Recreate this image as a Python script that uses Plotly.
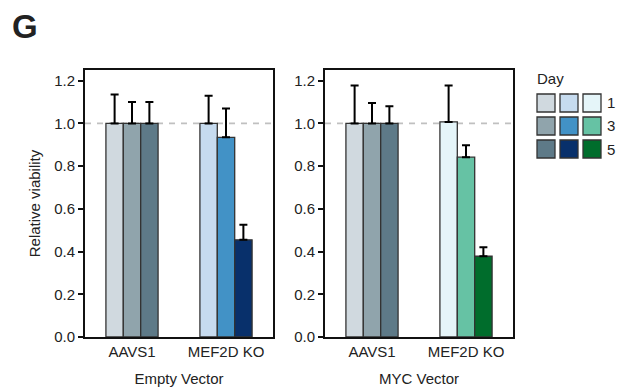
import plotly.graph_objects as go
from plotly.subplots import make_subplots

categories = ["AAVS1", "MEF2D KO"]
days = ["1", "3", "5"]
panels = ["Empty Vector", "MYC Vector"]

# values per panel, per day -> [AAVS1, MEF2D KO]
empty_values = {"1": [1.0, 1.0], "3": [1.0, 0.935], "5": [1.0, 0.455]}
empty_err = {"1": [0.135, 0.13], "3": [0.10, 0.135], "5": [0.10, 0.07]}
myc_values = {"1": [1.0, 1.007], "3": [1.0, 0.842], "5": [1.0, 0.378]}
myc_err = {"1": [0.177, 0.17], "3": [0.096, 0.056], "5": [0.08, 0.042]}

aavs_colors = ["#d0d9df", "#90a4ac", "#5e7a88"]
empty_mef_colors = ["#c6dbef", "#4292c6", "#08306b"]
myc_mef_colors = ["#e5f5f9", "#66c2a4", "#006d2c"]

FONT = "Liberation Sans, Arial, sans-serif"
FS = 15

W, H = 620, 390


def px(x):
    return x / W


def py(y):
    return 1 - y / H


fig = make_subplots(rows=1, cols=2)

for col, (vals, errs, mefc) in enumerate(
        [(empty_values, empty_err, empty_mef_colors),
         (myc_values, myc_err, myc_mef_colors)], start=1):
    for i, d in enumerate(days):
        fig.add_trace(go.Bar(
            x=categories, y=vals[d],
            marker=dict(color=[aavs_colors[i], mefc[i]],
                        line=dict(color="#333333", width=1.3)),
            error_y=dict(type="data", array=errs[d], symmetric=False,
                         arrayminus=[0, 0], color="black", thickness=2, width=4),
            showlegend=False, name="Day " + d,
        ), row=1, col=col)

ydom = [py(337), py(70)]
fig.update_layout(
    template="none",
    width=W, height=H,
    margin=dict(l=0, r=0, t=0, b=0),
    paper_bgcolor="white", plot_bgcolor="white",
    barmode="group", bargap=0.445, bargroupgap=0,
    font=dict(family=FONT, size=FS, color="#222"),
    xaxis=dict(domain=[px(85), px(273)]),
    xaxis2=dict(domain=[px(325), px(513)]),
    yaxis=dict(domain=ydom), yaxis2=dict(domain=ydom),
)

for col, title in enumerate(panels, start=1):
    fig.update_xaxes(row=1, col=col, title=dict(text=title, font=dict(size=FS), standoff=15),
                     automargin=False,
                     showline=True, linecolor="#111", linewidth=1.8, mirror=True,
                     ticks="", tickfont=dict(size=FS), showgrid=False, zeroline=False)
    fig.update_yaxes(row=1, col=col, range=[0, 1.25], tickvals=[0, 0.2, 0.4, 0.6, 0.8, 1.0, 1.2],
                     automargin=False,
                     tickformat=".1f", showline=True, linecolor="#111", linewidth=1.8,
                     mirror=True, ticks="outside", ticklen=5, tickwidth=1.5, tickcolor="#111",
                     showgrid=False, zeroline=False, tickfont=dict(size=FS))
    fig.add_hline(y=1.0, line=dict(color="#c0c0c0", width=1.6, dash="6px,6px"),
                  row=1, col=col, layer="below")

fig.update_yaxes(row=1, col=1, title=dict(text="Relative viability", font=dict(size=FS), standoff=10))

# Panel label
fig.add_annotation(text="<b>G</b>", x=px(10), y=py(27), xref="paper", yref="paper",
                   xanchor="left", yanchor="middle", showarrow=False,
                   font=dict(size=33, color="#222"))

# Legend grid
fig.add_annotation(text="Day", x=px(535), y=py(79), xref="paper", yref="paper",
                   xanchor="left", yanchor="middle", showarrow=False, font=dict(size=FS))
col_sets = [aavs_colors, empty_mef_colors, myc_mef_colors]
x0s = [537, 560, 583]
y0s = [94, 117, 140]
for ci, cset in enumerate(col_sets):
    for ri in range(3):
        fig.add_shape(type="rect", xref="paper", yref="paper",
                      x0=px(x0s[ci]), x1=px(x0s[ci] + 18),
                      y0=py(y0s[ri] + 18), y1=py(y0s[ri]),
                      fillcolor=cset[ri], line=dict(color="#333333", width=1.3))
for ri, d in enumerate(days):
    fig.add_annotation(text=d, x=px(605), y=py(y0s[ri] + 9), xref="paper", yref="paper",
                       xanchor="left", yanchor="middle", showarrow=False, font=dict(size=FS))

fig.write_html("out.html", config={"displayModeBar": False},
               post_script="document.body.style.margin='0';document.body.style.overflow='hidden';")
